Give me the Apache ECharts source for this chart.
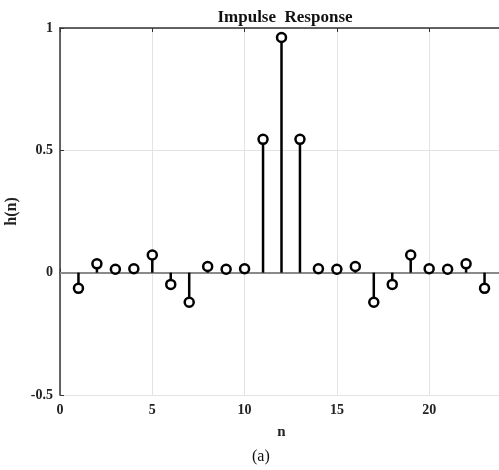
<!DOCTYPE html>
<html>
<head>
<meta charset="utf-8">
<script src="https://cdn.jsdelivr.net/npm/echarts@6/dist/echarts.min.js"></script>
<style>
  html, body { margin: 0; padding: 0; background: #fff; overflow: hidden; }
  /* the source figure is cropped on the right, so the chart is a bit wider than the window */
  #chart { width: 506px; height: 470px; }
</style>
</head>
<body>
<div id="chart"></div>
<script>
// samples n = 1..23
const nValues = [1, 2, 3, 4, 5, 6, 7, 8, 9, 10, 11, 12, 13, 14, 15, 16, 17, 18, 19, 20, 21, 22, 23];
const hValues = [-0.064, 0.036, 0.014, 0.016, 0.072, -0.048, -0.121, 0.025, 0.014, 0.016,
  0.545, 0.961, 0.545,
  0.016, 0.014, 0.025, -0.121, -0.048, 0.072, 0.016, 0.014, 0.036, -0.064];
const xTicks = [0, 5, 10, 15, 20];
const yTicks = [-0.5, 0, 0.5, 1];

const FONT = "Liberation Serif";
const points = nValues.map((n, i) => [n, hValues[i]]);

const chart = echarts.init(document.getElementById("chart"), null, { renderer: "canvas" });

const axisLine = { show: true, lineStyle: { color: "#333", width: 1.5 } };
const tickLabel = { color: "#222", fontFamily: FONT, fontWeight: "bold", fontSize: 14 };

chart.setOption({
  animation: false,
  backgroundColor: "#fff",
  title: {
    text: "Impulse  Response",
    left: 280, top: 4, textAlign: "center",
    textStyle: { fontFamily: FONT, fontWeight: "bold", fontSize: 17, color: "#111" }
  },
  grid: { left: 60, top: 28, right: 3, bottom: 75, outerBoundsMode: "none", containLabel: false },
  xAxis: [
    {
      type: "value", min: 0, max: 24, interval: 5,
      axisLine, axisTick: { inside: true, length: 4, lineStyle: { color: "#333" } },
      axisLabel: { ...tickLabel, margin: 8, formatter: v => xTicks.includes(v) ? String(v) : "" },
      splitLine: { show: true, lineStyle: { color: "#e3e3e3", width: 1 } },
      name: "n", nameLocation: "middle", nameGap: 30,
      nameTextStyle: { fontFamily: FONT, fontWeight: "bold", fontSize: 15, color: "#222" }
    },
    {
      type: "value", min: 0, max: 24, interval: 5, position: "top",
      axisLine, axisTick: { inside: true, length: 4, lineStyle: { color: "#333" } },
      axisLabel: { show: false }, splitLine: { show: false }
    }
  ],
  yAxis: [
    {
      type: "value", min: -0.5, max: 1, interval: 0.5,
      axisLine, axisTick: { show: true, inside: true, length: 4, lineStyle: { color: "#333" } },
      axisLabel: { ...tickLabel, margin: 7, formatter: v => yTicks.includes(v) ? String(v) : "" },
      splitLine: { show: true, lineStyle: { color: "#e3e3e3", width: 1 } },
      name: "h(n)", nameLocation: "middle", nameGap: 32, nameRotate: 90,
      nameTextStyle: { fontFamily: FONT, fontWeight: "bold", fontSize: 16, color: "#222" }
    }
  ],
  graphic: [
    {
      type: "text", left: 252, top: 449,
      style: { text: "(a)", fontFamily: FONT, fontSize: 16, fill: "#111" }
    }
  ],
  series: [
    {
      type: "custom",
      data: points,
      z: 3,
      renderItem: (params, api) => {
        const p0 = api.coord([api.value(0), 0]);
        const p1 = api.coord([api.value(0), api.value(1)]);
        return {
          type: "line",
          shape: { x1: p0[0], y1: p0[1], x2: p1[0], y2: p1[1] },
          style: { stroke: "#000", lineWidth: 2.5 }
        };
      }
    },
    {
      type: "scatter",
      data: points,
      z: 4,
      symbol: "circle",
      symbolSize: 9,
      itemStyle: { color: "#fff", borderColor: "#000", borderWidth: 2.5, opacity: 1 },
      markLine: {
        silent: true, symbol: "none", label: { show: false },
        lineStyle: { color: "#8a8a8a", width: 2, type: "solid" },
        data: [{ yAxis: 0 }],
        z: 2
      }
    }
  ]
});
</script>
</body>
</html>
